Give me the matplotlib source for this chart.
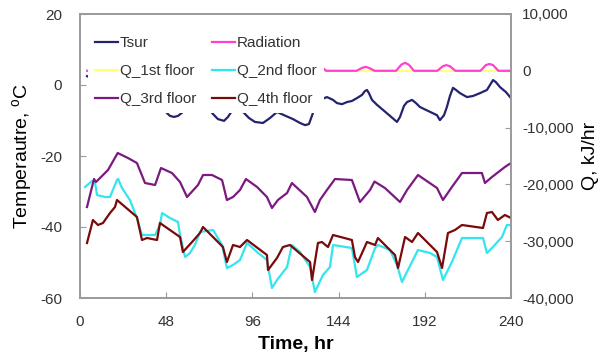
import matplotlib
matplotlib.use('Agg')
import matplotlib.pyplot as plt
from matplotlib.ticker import StrMethodFormatter

plt.rcParams['font.family'] = ['Liberation Sans', 'DejaVu Sans']
plt.rcParams['axes.unicode_minus'] = False

# surface temperature, left axis (degC)
tsur_hr = [3.9, 15, 25, 35, 44, 48.4, 50.1, 52.3, 54.6, 57.3, 61.2, 66.8, 71.3,
           74.1, 76.8, 80.2, 82.4, 84.6, 87.4, 90.8, 94.1, 97.4, 101.9, 105.8,
           109.7, 113.6, 118.6, 122.5, 125.3, 127.5, 129.7, 131.4,
           133.6, 137.5, 140.9, 143.1, 145.9, 148.7, 151.4, 154.2, 157.0, 158.7,
           159.8, 160.9, 162.6, 165.4, 168.7, 172.6, 176.5, 178.2, 180.4, 182.1,
           184.9, 187.1, 189.3, 193.8, 198.8, 200.4, 202.7, 204.3, 206.0, 207.7,
           209.4, 211.6, 215.5, 218.8, 222.7, 226.6, 228.3, 230.0, 231.6, 233.9,
           237.2, 240]
tsur_c = [2.5, 0.0, -2.0, -3.5, -5.0, -7.9, -8.7, -9.0, -8.7, -7.6, -5.6, -5.4,
          -6.5, -8.2, -9.6, -10.1, -9.0, -7.3, -5.9, -7.6, -9.3, -10.4, -10.7,
          -9.3, -7.6, -8.5, -9.6, -10.7, -11.3, -11.0, -7.9, -5.9,
          -4.2, -3.4, -4.2, -5.1, -5.4, -4.8, -4.5, -3.7, -2.8, -1.7,
          -1.4, -2.3, -4.2, -5.6, -7.0, -8.7, -10.4, -9.0, -5.9, -4.8,
          -4.2, -5.1, -6.2, -7.3, -8.5, -9.9, -8.5, -6.2, -3.1, -0.8,
          -1.4, -2.3, -3.4, -3.1, -2.3, -1.4, 0.0, 1.4, 0.8, -0.6,
          -2.0, -3.7]

# solar radiation, right axis
rad_hr = [4, 9, 12, 14, 16, 19,
          33, 36, 38, 40, 43,
          57, 60, 62, 64, 67,
          81, 84, 86, 88, 91,
          105, 108, 110, 112, 115,
          128, 131, 133, 135, 137,
          154, 157, 159, 161, 164,
          176, 179, 181, 183, 186,
          199, 202, 204, 206, 209,
          223, 226, 228, 230, 233, 240]
rad_q = [0, 0, 900, 1200, 900, 0,
         0, 900, 1200, 900, 0,
         0, 900, 1200, 900, 0,
         0, 900, 1200, 900, 0,
         0, 900, 1200, 900, 0,
         0, 1100, 1400, 600, 0,
         0, 500, 700, 500, 0,
         0, 1100, 1400, 1100, 0,
         0, 800, 1000, 800, 0,
         0, 1000, 1200, 1000, 0, 0]

# heating loads per floor (kJ/hr)
q1_hr = [4, 240]
q1 = [0, 0]

q2_hr = [2.8, 6.7, 8.4, 9.5, 13.9, 16.7, 20.6, 21.2, 23.4, 27.8, 31.7, 34.5, 37.3,
         41.8, 44.5, 45.7, 50.1, 54.6, 55.7, 58.5, 61.2, 64.0, 66.8, 74.1, 79.1,
         81.8, 85.2, 89.1, 93.0, 98.6, 104.1, 106.9, 109.7, 115.3, 118.0, 122.5,
         128.1, 130.8, 135.3, 139.2, 140.9, 151.4, 154.2, 159.8, 164.3, 165.9,
         172.6, 176.5, 179.3, 182.6, 188.2, 194.9, 198.8, 202.1, 207.1, 212.7,
         224.4, 226.6, 229.4, 235.0, 237.7, 240]
q2 = [-20458, -19402, -19754, -21867, -22219, -22219, -19226, -19050, -20634,
      -22747, -25916, -28909, -28909, -28909, -27148, -25036, -25916, -26620,
      -28909, -32782, -32078, -30670, -28381, -28029, -30670, -34719, -34191,
      -33311, -30318, -31902, -33311, -38241, -36832, -34543, -30670, -31902,
      -34543, -38945, -35952, -34543, -30670, -31198, -36304, -35071, -31198,
      -30670, -31550, -34191, -37184, -35071, -31550, -32078, -32782, -36832,
      -33663, -29437, -29437, -32078, -31198, -29261, -27148, -27148]

q3_hr = [3.9, 7.8, 8.9, 15.6, 21.0, 26.7, 31.7, 36.2, 41.8, 45.1, 51.2, 55.7, 59.6,
         65.7, 68.5, 73.5, 79.1, 81.8, 85.2, 89.1, 92.4, 98.6, 104.1, 106.9, 110.2,
         115.3, 118.0, 126.4, 130.8, 133.6, 137.5, 142.0, 151.4, 155.9, 161.5,
         164.0, 169.8, 178.2, 182.1, 188.2, 198.8, 202.1, 207.1, 212.7, 223.8,
         225.5, 229.4, 236.6, 240]
q3 = [-23980, -19050, -19578, -17465, -14472, -15353, -16233, -19754, -20106,
      -17113, -17994, -19578, -22219, -20106, -18346, -18346, -19226, -22747,
      -22219, -20987, -19050, -20458, -22219, -24156, -22747, -21515, -19754,
      -22219, -24860, -22747, -20987, -19050, -19226, -23099, -20987, -19500,
      -20634, -23099, -20987, -18346, -20634, -22747, -20458, -17994, -17994,
      -19754, -18698, -16937, -16233]

q4_hr = [3.9, 7.2, 10.0, 12.8, 16.7, 19.5, 20.6, 31.7, 34.5, 37.3, 42.9, 44.5, 55.7,
         57.3, 62.4, 66.8, 68.5, 79.6, 81.8, 85.2, 89.1, 93.0, 104.1, 104.7, 109.7,
         113.0, 116.9, 128.1, 129.2, 132.5, 134.7, 138.1, 140.9, 151.4, 153.1,
         154.8, 159.8, 164.3, 165.9, 175.4, 177.1, 181.0, 184.9, 188.2, 198.8,
         201.6, 204.9, 208.8, 212.7, 224.4, 226.6, 229.4, 232.7, 236.6, 240]
q4 = [-30318, -26268, -27148, -26796, -25036, -23979, -22747, -25740, -29789,
      -29437, -29789, -26796, -29261, -31902, -30141, -28557, -27500, -31022,
      -33663, -30670, -31022, -29789, -32430, -35071, -32958, -31022, -30670,
      -33663, -36832, -30318, -30141, -31022, -28909, -29789, -32782, -33663,
      -30141, -30670, -29437, -32430, -34719, -29261, -30141, -28557, -31902,
      -34719, -28557, -28029, -27148, -27676, -25036, -24860, -26268, -25388,
      -25916]

fig = plt.figure(figsize=(6.11, 3.61), dpi=100)
ax1 = fig.add_axes([80/611, 63/361, 431/611, 284/361])
ax2 = ax1.twinx()

l_tsur, = ax1.plot(tsur_hr, tsur_c, color='#23236e', lw=1.6, label='Tsur')
l_q1, = ax2.plot(q1_hr, q1, color='#ffff80', lw=1.6, label='Q_1st floor')
l_rad, = ax2.plot(rad_hr, rad_q, color='#ff40d0', lw=1.6, label='Radiation')
l_q2, = ax2.plot(q2_hr, q2, color='#33e5ee', lw=1.6, label='Q_2nd floor')
l_q3, = ax2.plot(q3_hr, q3, color='#7a1a80', lw=1.6, label='Q_3rd floor')
l_q4, = ax2.plot(q4_hr, q4, color='#7a0a0a', lw=1.6, label='Q_4th floor')

ax1.set_xlim(0, 240)
ax1.set_xticks([0, 48, 96, 144, 192, 240])
ax1.set_ylim(-60, 20)
ax1.set_yticks([-60, -40, -20, 0, 20])
ax2.set_ylim(-40000, 10000)
ax2.set_yticks([-40000, -30000, -20000, -10000, 0, 10000])
ax2.yaxis.set_major_formatter(StrMethodFormatter('{x:,.0f}'))

for ax in (ax1, ax2):
    for sp in ax.spines.values():
        sp.set_color('#9a9a9a')
        sp.set_linewidth(1.2)
ax1.tick_params(axis='x', direction='in', length=4, pad=12, labelsize=11,
                color='#9a9a9a', labelcolor='#333333')
ax1.tick_params(axis='y', direction='in', length=4, pad=13, labelsize=11,
                color='#9a9a9a', labelcolor='#333333')
ax2.tick_params(axis='y', direction='in', length=4, pad=8, labelsize=11,
                color='#9a9a9a', labelcolor='#333333')

ax1.set_xlabel('Time, hr', fontsize=14, fontweight='bold', labelpad=5)
ax1.set_ylabel('Temperautre, $\\mathregular{^{o}}$C', fontsize=14, labelpad=4)
ax2.set_ylabel('Q, kJ/hr', fontsize=14, labelpad=6)

handles = [l_tsur, l_q1, l_q3, l_rad, l_q2, l_q4]
leg = ax2.legend(handles=handles, labels=[h.get_label() for h in handles],
                 ncol=2, loc='upper left', bbox_to_anchor=(0.0186, 0.947),
                 borderaxespad=0, fontsize=11, frameon=True, framealpha=1,
                 edgecolor='none', handlelength=1.5, handletextpad=0.15,
                 columnspacing=1.0, labelspacing=0.92, borderpad=0.45)
for t in leg.get_texts():
    t.set_color('#333333')

fig.savefig('out.png', dpi=100)
